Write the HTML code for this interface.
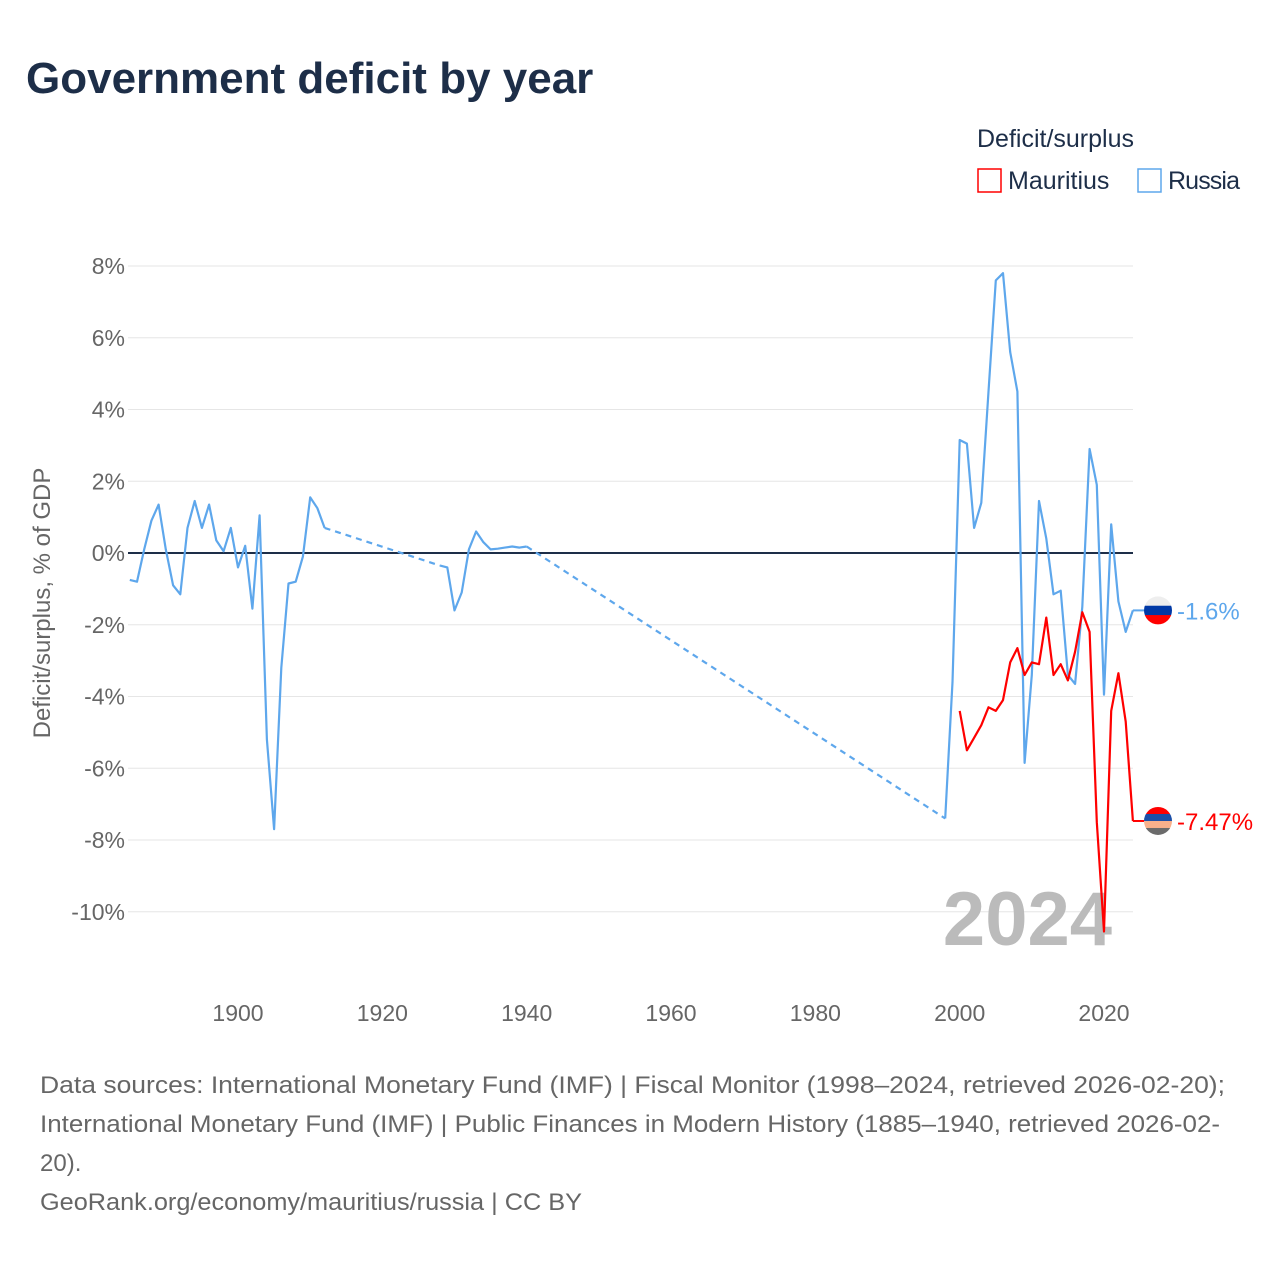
<!DOCTYPE html>
<html><head><meta charset="utf-8"><style>
body{margin:0;background:#fff;font-family:"Liberation Sans",sans-serif;}
#wrap{position:relative;width:1280px;height:1280px;overflow:hidden;}
</style></head><body>
<div id="wrap">
<svg id="svg" width="1280" height="1280">
<text x="26" y="93" font-size="44" font-weight="bold" fill="#1d2e48">Government deficit by year</text>
<text x="977" y="147" font-size="25" fill="#1d2e48">Deficit/surplus</text>
<g><rect x="978" y="169" width="23" height="23" fill="none" stroke="#ff0000" stroke-width="1.5"/><text x="1008" y="189" font-size="25" fill="#1d2e48">Mauritius</text></g>
<g><rect x="1138" y="169" width="23" height="23" fill="none" stroke="#5ea7ec" stroke-width="1.5"/><text x="1168" y="189" font-size="25" fill="#1d2e48" textLength="72">Russia</text></g>
<text transform="translate(50,603) rotate(-90)" text-anchor="middle" font-size="24" fill="#666">Deficit/surplus, % of GDP</text>
<g id="grid"></g>
<text x="1112" y="945" text-anchor="end" font-size="76" font-weight="bold" fill="#bbb">2024</text>
<g id="marks"></g>
<text x="40" y="1093" font-size="24" fill="#666" textLength="1185" lengthAdjust="spacingAndGlyphs">Data sources: International Monetary Fund (IMF) | Fiscal Monitor (1998–2024, retrieved 2026-02-20);</text>
<text x="40" y="1132" font-size="24" fill="#666" textLength="1180" lengthAdjust="spacingAndGlyphs">International Monetary Fund (IMF) | Public Finances in Modern History (1885–1940, retrieved 2026-02-</text>
<text x="40" y="1171" font-size="24" fill="#666">20).</text>
<text x="40" y="1210" font-size="24" fill="#666" textLength="542" lengthAdjust="spacingAndGlyphs">GeoRank.org/economy/mauritius/russia | CC BY</text>
</svg>
</div>
<script>
const yTicks=[8,6,4,2,0,-2,-4,-6,-8,-10];
const xTicks=[1900,1920,1940,1960,1980,2000,2020];
const russiaEarlyYears=[1885,1886,1887,1888,1889,1890,1891,1892,1893,1894,1895,1896,1897,1898,1899,1900,1901,1902,1903,1904,1905,1906,1907,1908,1909,1910,1911,1912];
const russiaEarlyVals=[-0.75,-0.8,0.1,0.9,1.35,0.1,-0.9,-1.15,0.7,1.45,0.7,1.35,0.35,0.05,0.7,-0.4,0.2,-1.55,1.05,-5.2,-7.7,-3.2,-0.85,-0.8,-0.1,1.55,1.25,0.7];
const russiaMidYears=[1928,1929,1930,1931,1932,1933,1934,1935,1936,1937,1938,1939,1940];
const russiaMidVals=[-0.35,-0.4,-1.6,-1.1,0.1,0.6,0.3,0.1,0.12,0.15,0.18,0.15,0.18];
const modernYears=[1998,1999,2000,2001,2002,2003,2004,2005,2006,2007,2008,2009,2010,2011,2012,2013,2014,2015,2016,2017,2018,2019,2020,2021,2022,2023,2024];
const russiaModernVals=[-7.4,-3.6,3.15,3.05,0.7,1.4,4.5,7.6,7.8,5.6,4.5,-5.85,-3.4,1.45,0.4,-1.15,-1.05,-3.4,-3.65,-1.5,2.9,1.9,-3.95,0.8,-1.35,-2.2,-1.6];
const mauritiusYears=[2000,2001,2002,2003,2004,2005,2006,2007,2008,2009,2010,2011,2012,2013,2014,2015,2016,2017,2018,2019,2020,2021,2022,2023,2024];
const mauritiusVals=[-4.4,-5.5,-5.15,-4.8,-4.3,-4.4,-4.1,-3.05,-2.65,-3.4,-3.05,-3.1,-1.8,-3.4,-3.1,-3.55,-2.75,-1.65,-2.2,-7.5,-10.55,-4.4,-3.35,-4.7,-7.47];
const NS="http://www.w3.org/2000/svg";
const X=y=>238+(y-1900)*866/120;
const Y=v=>553-v*35.875;
function mk(tag,attrs,parent){const e=document.createElementNS(NS,tag);for(const k in attrs)e.setAttribute(k,attrs[k]);parent.appendChild(e);return e;}
const grid=document.getElementById('grid'),marks=document.getElementById('marks');
yTicks.forEach(t=>{
 if(t!==0){const l=mk('line',{x1:128,x2:1133,y1:Y(t),y2:Y(t),stroke:'#e6e6e6','stroke-width':1},grid);
 
 }
 const tx=mk('text',{x:125,y:Y(t)+8,'text-anchor':'end','font-size':23,fill:'#666'},grid);tx.textContent=t+'%';
 
 
});
xTicks.forEach(t=>{const tx=mk('text',{x:X(t),y:1021,'text-anchor':'middle','font-size':23,fill:'#666'},grid);tx.textContent=t;
 
 });
const zl=mk('line',{x1:128,x2:1133,y1:Y(0),y2:Y(0),stroke:'#1d2e48','stroke-width':2},grid);


function path(ys,vs){return ys.map((y,i)=>(i?'L':'M')+X(y).toFixed(1)+','+Y(vs[i]).toFixed(1)).join(' ');}
function line(d,color,dash,name){const p=mk('path',{d:d,fill:'none',stroke:color,'stroke-width':2.2,'stroke-linejoin':'round'},marks);if(dash)p.setAttribute('stroke-dasharray',dash);
 
 }
const blue='#5ea7ec',red='#ff0000';
line(path(russiaEarlyYears,russiaEarlyVals),blue,null,'russia-line-early');
line(path([russiaEarlyYears[russiaEarlyYears.length-1],russiaMidYears[0]],[russiaEarlyVals[russiaEarlyVals.length-1],russiaMidVals[0]]),blue,'6,5','russia-gap-1');
line(path(russiaMidYears,russiaMidVals),blue,null,'russia-line-mid');
line(path([russiaMidYears[russiaMidYears.length-1],modernYears[0]],[russiaMidVals[russiaMidVals.length-1],russiaModernVals[0]]),blue,'6,5','russia-gap-2');
line(path(modernYears,russiaModernVals),blue,null,'russia-line-modern');
line(path(mauritiusYears,mauritiusVals),red,null,'mauritius-line');
function endLabel(v,color,stripes,name,txt){
 const y=Y(v),x0=X(2024),cx=1158;
 const g=mk('g',{},marks);
 
 
 mk('line',{x1:x0,x2:cx-14,y1:y,y2:y,stroke:color,'stroke-width':2},g);
 const id='c'+name;const cp=mk('clipPath',{id:id},g);mk('circle',{cx:cx,cy:y,r:14},cp);
 const h=28/stripes.length;
 stripes.forEach((c,i)=>mk('rect',{x:cx-14,y:y-14+i*h,width:28,height:h+0.5,fill:c,'clip-path':'url(#'+id+')'},g));
 const t=mk('text',{x:cx+19,y:y+9,'font-size':24,fill:color},g);t.textContent=txt;
}
endLabel(russiaModernVals[russiaModernVals.length-1],blue,['#eeeeee','#0039a6','#f00'],'russia-end-label','-1.6%');
endLabel(mauritiusVals[mauritiusVals.length-1],red,['#f00','#1a4fa8','#f9b08b','#6b6b6b'],'mauritius-end-label','-7.47%');
</script>
</body></html>
